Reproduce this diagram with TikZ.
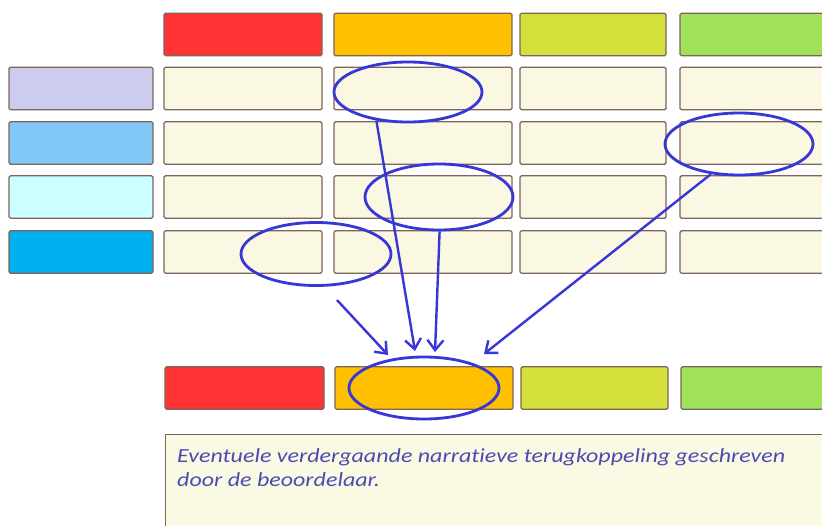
\documentclass[tikz,border=0pt]{standalone}
\usepackage{fontspec}
\setmainfont{Carlito}
\newfontfamily\fbfont[FakeStretch=1.2,Ligatures=NoCommon]{Carlito}
\usetikzlibrary{shapes.geometric,arrows.meta}
\definecolor{cred}{RGB}{255,51,51}
\definecolor{corange}{RGB}{255,192,0}
\definecolor{cyellow}{RGB}{212,225,60}
\definecolor{cgreen}{RGB}{160,225,90}
\definecolor{clav}{RGB}{204,204,238}
\definecolor{clblue}{RGB}{128,200,245}
\definecolor{ccyan}{RGB}{204,255,255}
\definecolor{cblue}{RGB}{0,176,240}
\definecolor{ccream}{RGB}{250,247,226}
\definecolor{cpale}{RGB}{250,250,228}
\definecolor{cedge}{RGB}{125,100,92}
\definecolor{cmark}{RGB}{55,55,215}
\definecolor{ctext}{RGB}{75,75,180}
\tikzset{
  box/.style={draw=cedge, line width=1.4pt, rounded corners=1.5pt, inner sep=0pt, minimum height=42.5pt},
  cellbox/.style={box, fill=ccream},
  ringmark/.style={draw=cmark, line width=2.8pt, ellipse, inner sep=0pt},
  marrow/.style={draw=cmark, line width=2.4pt, -{Straight Barb[length=10pt,width=16pt,line width=2.4pt]}}
}
\begin{document}
\begin{tikzpicture}[x=1pt,y=-1pt]
\useasboundingbox (0,0) rectangle (822,525);
\fill[white] (0,0) rectangle (822,525);
% column geometry: center / width
\def\colA{243}\def\widA{158}
\def\colB{423}\def\widB{178}
\def\colC{593}\def\widC{146}
\def\colD{755}\def\widD{150}
% header row
\node[box, fill=cred, minimum width=\widA] (h1) at (\colA,34.5) {};
\node[box, fill=corange, minimum width=\widB] (h2) at (\colB,34.5) {};
\node[box, fill=cyellow, minimum width=\widC] (h3) at (\colC,34.5) {};
\node[box, fill=cgreen, minimum width=\widD] (h4) at (\colD,34.5) {};
% row headers
\node[box, fill=clav, minimum width=144] (r1) at (81,88.5) {};
\node[box, fill=clblue, minimum width=144] (r2) at (81,143) {};
\node[box, fill=ccyan, minimum width=144] (r3) at (81,197) {};
\node[box, fill=cblue, minimum width=144] (r4) at (81,252) {};
% cells
\foreach \y [count=\i] in {88.5,143,197,252}{
  \node[cellbox, minimum width=\widA] (c\i a) at (\colA,\y) {};
  \node[cellbox, minimum width=\widB] (c\i b) at (\colB,\y) {};
  \node[cellbox, minimum width=\widC] (c\i c) at (\colC,\y) {};
  \node[cellbox, minimum width=\widD] (c\i d) at (\colD,\y) {};
}
% result row
\node[box, fill=cred, minimum width=159] (b1) at (244.5,388) {};
\node[box, fill=corange, minimum width=178] (b2) at (424,388) {};
\node[box, fill=cyellow, minimum width=147] (b3) at (594.5,388) {};
\node[box, fill=cgreen, minimum width=150] (b4) at (756,388) {};
% feedback box
\node[draw=cedge, line width=1.4pt, fill=cpale, inner sep=0pt, minimum width=665, minimum height=106, anchor=north west] (fb) at (165,434) {};
\node[anchor=north west, inner sep=0pt, align=left, font=\fontsize{20}{24}\fbfont\itshape, text=ctext] (fbt) at (177,448)
  {Eventuele verdergaande narratieve terugkoppeling geschreven\\door de beoordelaar.};
% ellipses
\node[ringmark, minimum width=148, minimum height=60] (e1) at (408,92) {};
\node[ringmark, minimum width=148, minimum height=62] (e2) at (739,144) {};
\node[ringmark, minimum width=148, minimum height=66] (e3) at (439,197) {};
\node[ringmark, minimum width=150, minimum height=63] (e4) at (316,254) {};
\node[ringmark, minimum width=150, minimum height=62] (e5) at (424,388) {};
% arrow end points
\coordinate (s4) at (337,300);
\coordinate (t4) at (388,355);
\coordinate (t1) at (415,351);
\coordinate (t2) at (435,352);
\coordinate (t3) at (484,354);
\draw[marrow] (e1.222) -- (t1);
\draw[marrow] (e3.271) -- (t2);
\draw[marrow] (e2.227) -- (t3);
\draw[marrow] (s4) -- (t4);
\end{tikzpicture}
\end{document}
